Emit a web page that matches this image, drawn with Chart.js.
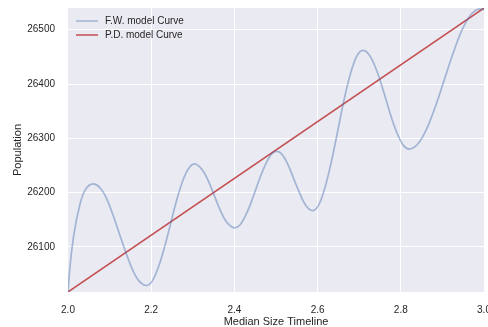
<!DOCTYPE html>
<html>
<head>
<meta charset="utf-8">
<script src="https://cdn.jsdelivr.net/npm/chart.js@4/dist/chart.umd.min.js"></script>
<style>
  html, body { margin: 0; padding: 0; background: #ffffff; }
  #wrap { width: 488px; height: 327px; }
</style>
</head>
<body>
<div id="wrap"><canvas id="chart" width="488" height="327"></canvas></div>
<script>
// values
const fwX = [2.000, 2.004, 2.0135, 2.0295, 2.0415, 2.061,
    2.0769, 2.0928, 2.1086, 2.1245, 2.1404, 2.1563, 2.1721, 2.188,
    2.2025, 2.217, 2.2315, 2.246, 2.2605, 2.275, 2.2895, 2.304,
    2.316, 2.328, 2.340, 2.352, 2.364, 2.376, 2.388, 2.400,
    2.4128, 2.4255, 2.4383, 2.451, 2.4638, 2.4765, 2.4893, 2.502,
    2.5128, 2.5235, 2.5343, 2.545, 2.5558, 2.5665, 2.5773, 2.588,
    2.6031, 2.618, 2.6334, 2.6485, 2.6636, 2.679, 2.6939, 2.709,
    2.7229, 2.7368, 2.7506, 2.7645, 2.7784, 2.7923, 2.8061, 2.820,
    2.8413, 2.8625, 2.8838, 2.905, 2.9263, 2.9475, 2.9688, 2.990, 3.000];
const fwY = [26017, 26058, 26120, 26181, 26205, 26216,
    26209, 26189, 26158, 26122, 26087, 26056, 26036, 26029,
    26037, 26062, 26098, 26141, 26184, 26220, 26244, 26253,
    26248, 26236, 26217, 26194, 26171, 26152, 26140, 26135,
    26140, 26156, 26178, 26205, 26232, 26255, 26271, 26276,
    26272, 26260, 26242, 26221, 26201, 26183, 26171, 26167,
    26178, 26210, 26258, 26314, 26371, 26419, 26451, 26462,
    26455, 26435, 26406, 26371, 26336, 26307, 26287, 26280,
    26290, 26318, 26360, 26409, 26458, 26500, 26528, 26538, 26537];
const pdX = [2.0, 3.0];
const pdY = [26017, 26540];

const xTicks = [2.0, 2.2, 2.4, 2.6, 2.8, 3.0];
const yTicks = [26100, 26200, 26300, 26400, 26500];

const seriesNames = ['F.W. model Curve', 'P.D. model Curve'];
const seriesColors = ['rgba(76, 114, 176, 0.45)', '#c44e52'];

const textColor = '#262626';
const fontFamily = '"Liberation Sans", Arial, sans-serif';

const toPoints = (xs, ys) => xs.map((x, i) => ({ x: x, y: ys[i] }));

const plotBackground = {
    id: 'plotBackground',
    beforeDraw(chart) {
        const { ctx, chartArea } = chart;
        ctx.save();
        ctx.fillStyle = '#eaeaf2';
        ctx.fillRect(chartArea.left, chartArea.top,
            chartArea.right - chartArea.left, chartArea.bottom - chartArea.top);
        ctx.restore();
    },
};

// legend drawn inside the plot, top-left, like matplotlib's
const innerLegend = {
    id: 'innerLegend',
    afterDraw(chart) {
        const { ctx, chartArea } = chart;
        ctx.save();
        ctx.font = '10px ' + fontFamily;
        ctx.textBaseline = 'middle';
        chart.data.datasets.forEach((ds, i) => {
            const y = chartArea.top + 13 + i * 14;
            const x0 = chartArea.left + 8;
            ctx.strokeStyle = ds.borderColor;
            ctx.lineWidth = 1.5;
            ctx.beginPath();
            ctx.moveTo(x0, y);
            ctx.lineTo(x0 + 22, y);
            ctx.stroke();
            ctx.fillStyle = textColor;
            ctx.fillText(ds.label, x0 + 29, y);
        });
        ctx.restore();
    },
};

new Chart(document.getElementById('chart'), {
    type: 'line',
    data: {
        datasets: [{
            label: seriesNames[0],
            data: toPoints(fwX, fwY),
            borderColor: seriesColors[0],
            borderWidth: 1.7,
            pointRadius: 0,
            cubicInterpolationMode: 'monotone',
        }, {
            label: seriesNames[1],
            data: toPoints(pdX, pdY),
            borderColor: seriesColors[1],
            borderWidth: 1.5,
            pointRadius: 0,
        }],
    },
    options: {
        responsive: false,
        animation: false,
        devicePixelRatio: 1,
        layout: { padding: { left: 0, right: 4, top: 8, bottom: 0 } },
        plugins: {
            legend: { display: false },
            tooltip: { enabled: false },
        },
        scales: {
            x: {
                type: 'linear',
                min: 2.0,
                max: 3.0,
                afterBuildTicks: (scale) => { scale.ticks = xTicks.map(v => ({ value: v })); },
                afterFit: (scale) => {
                    scale.height = 35;
                    scale.paddingLeft = 0;
                    scale.paddingRight = 0;
                },
                grid: {
                    color: (c) => (c.index === 0 || c.index === xTicks.length - 1) ? 'rgba(0,0,0,0)' : '#ffffff',
                    lineWidth: 1,
                    drawTicks: false,
                },
                border: { display: false },
                ticks: {
                    padding: 12,
                    color: textColor,
                    font: { family: fontFamily, size: 10 },
                    maxRotation: 0,
                    callback: (v) => Number(v).toFixed(1),
                },
                title: {
                    display: true,
                    text: 'Median Size Timeline',
                    color: textColor,
                    font: { family: fontFamily, size: 11, lineHeight: 1 },
                    padding: { top: 0, bottom: 0 },
                },
            },
            y: {
                type: 'linear',
                min: 26017,
                max: 26540,
                afterBuildTicks: (scale) => { scale.ticks = yTicks.map(v => ({ value: v })); },
                afterFit: (scale) => {
                    scale.width = 68;
                    scale.paddingTop = 0;
                    scale.paddingBottom = 0;
                },
                grid: {
                    color: '#ffffff',
                    lineWidth: 1,
                    drawTicks: false,
                },
                border: { display: false },
                ticks: {
                    padding: 13,
                    color: textColor,
                    font: { family: fontFamily, size: 10 },
                    callback: (v) => String(v),
                },
                title: {
                    display: true,
                    text: 'Population',
                    color: textColor,
                    font: { family: fontFamily, size: 11, lineHeight: 1.2 },
                    padding: { top: 11, bottom: 11 },
                },
            },
        },
    },
    plugins: [plotBackground, innerLegend],
});
</script>
</body>
</html>
